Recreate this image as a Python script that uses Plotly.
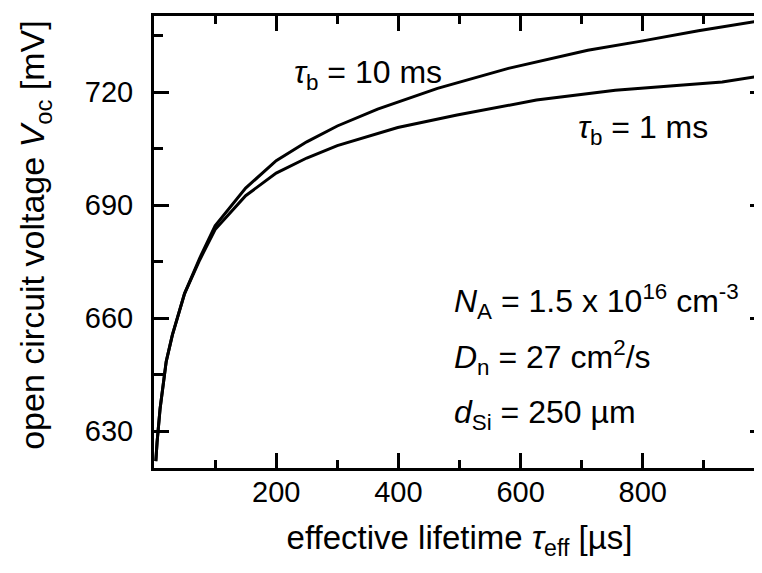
import plotly.graph_objects as go

# --- data ---
tau_10ms = [3, 5, 10, 15, 20, 30, 40, 50, 75, 100, 150, 200, 250, 300, 366, 464, 580, 710, 800, 891, 990]
voc_10ms = [622, 627, 636, 643, 648.5, 655.5, 661, 666.5, 676, 684.5, 694.5, 701.8, 706.8, 711, 715.5, 721, 726.3, 731.1, 733.6, 736.3, 738.9]

tau_1ms = [3, 5, 10, 15, 20, 30, 40, 50, 75, 100, 150, 200, 250, 300, 399, 496, 626, 755, 850, 930, 990]
voc_1ms = [622, 627, 636, 643, 648.5, 655.5, 661, 666.5, 675.5, 683.5, 692.5, 698.5, 702.5, 705.8, 710.6, 713.9, 717.9, 720.5, 721.7, 722.7, 724.2]

x_ticks = [200, 400, 600, 800]
x_minor = [100, 300, 500, 700, 900]
y_ticks = [630, 660, 690, 720]
y_minor = [645, 675, 705, 735]

X_RANGE = [0, 1000]
Y_RANGE = [620.2, 740.2]

FONT = "Liberation Sans, Arial, sans-serif"

fig = go.Figure()
fig.add_trace(go.Scatter(x=tau_10ms, y=voc_10ms, mode="lines",
                         line=dict(color="black", width=3), showlegend=False))
fig.add_trace(go.Scatter(x=tau_1ms, y=voc_1ms, mode="lines",
                         line=dict(color="black", width=3), showlegend=False))

fig.update_layout(
    width=760, height=565,
    margin=dict(l=146, r=0, t=8, b=105),
    paper_bgcolor="white", plot_bgcolor="white",
    font=dict(family=FONT, color="black"),
    xaxis=dict(
        range=X_RANGE, tickmode="array", tickvals=x_ticks,
        ticks="inside", ticklen=15, tickwidth=2.5, tickcolor="black",
        showline=True, linewidth=3, linecolor="black", mirror="ticks",
        showgrid=False, zeroline=False,
        tickfont=dict(size=29, family=FONT),
        ticklabelstandoff=-4,
        minor=dict(tickmode="array", tickvals=x_minor, ticks="inside",
                   ticklen=8, tickwidth=2.5, tickcolor="black", showgrid=False),
        title=dict(text="effective lifetime <i>τ</i><sub>eff</sub> [µs]",
                   font=dict(size=33, family=FONT), standoff=20),
    ),
    yaxis=dict(
        range=Y_RANGE, tickmode="array", tickvals=y_ticks,
        ticks="inside", ticklen=15, tickwidth=2.5, tickcolor="black",
        showline=True, linewidth=3, linecolor="black", mirror="ticks",
        showgrid=False, zeroline=False,
        tickfont=dict(size=29, family=FONT),
        ticklabelstandoff=12,
        minor=dict(tickmode="array", tickvals=y_minor, ticks="inside",
                   ticklen=9, tickwidth=2.5, tickcolor="black", showgrid=False),
    ),
)

# y-axis title placed precisely as a rotated annotation
fig.add_annotation(text="open circuit voltage <i>V</i><sub>oc</sub> [mV]",
                   xref="paper", yref="paper", x=-0.1954, y=0.515,
                   xanchor="center", yanchor="middle", textangle=-90,
                   showarrow=False, font=dict(size=34, family=FONT, color="black"))

ann_font = dict(size=32, family=FONT, color="black")
annotations = [
    ("<i>τ</i><sub>b</sub> = 10 ms", 226, 724.8),
    ("<i>τ</i><sub>b</sub> = 1 ms", 690, 710.0),
    ("<i>N</i><sub>A</sub> = 1.5 x 10<sup>16</sup> cm<sup>-3</sup>", 487, 664.5),
    ("<i>D</i><sub>n</sub> = 27 cm<sup>2</sup>/s", 487, 649.6),
    ("<i>d</i><sub>Si</sub> = 250 µm", 487, 634.5),
]
for text, ax_, ay_ in annotations:
    fig.add_annotation(x=ax_, y=ay_, xref="x", yref="y", text=text,
                       showarrow=False, xanchor="left", yanchor="middle",
                       font=ann_font)

fig.write_html("out.html")
